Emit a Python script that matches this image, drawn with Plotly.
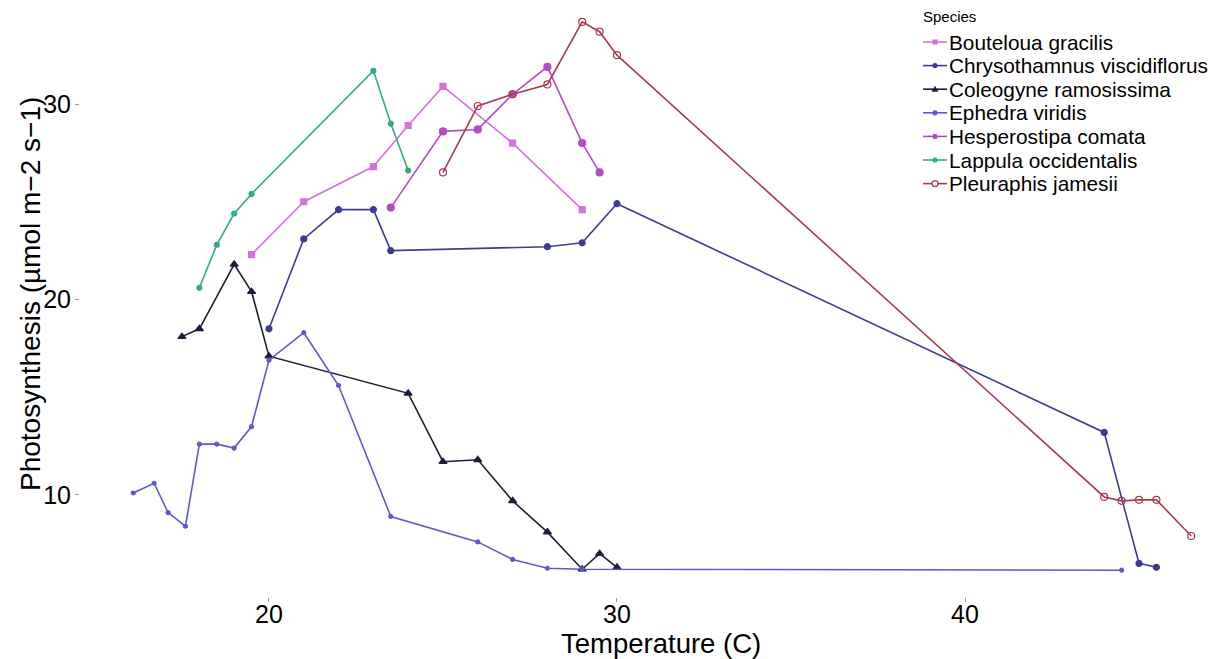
import plotly.graph_objects as go

species = ["Bouteloua gracilis", "Chrysothamnus viscidiflorus", "Coleogyne ramosissima",
           "Ephedra viridis", "Hesperostipa comata", "Lappula occidentalis", "Pleuraphis jamesii"]

bg_x = [19.5, 21, 23, 24, 25, 27, 29]
bg_y = [22.3, 25.0, 26.8, 28.9, 30.9, 28.0, 24.6]

cv_x = [20, 21, 22, 23, 23.5, 28, 29, 30, 44, 45, 45.5]
cv_y = [18.5, 23.1, 24.6, 24.6, 22.5, 22.7, 22.9, 24.9, 13.2, 6.5, 6.3]

cr_x = [17.5, 18, 19, 19.5, 20, 24, 25, 26, 27, 28, 29, 29.5, 30]
cr_y = [18.1, 18.5, 21.8, 20.4, 17.1, 15.2, 11.7, 11.8, 9.7, 8.1, 6.2, 7.0, 6.3]

ev_x = [16.1, 16.7, 17.1, 17.6, 18, 18.5, 19, 19.5, 20, 21, 22, 23.5, 26, 27, 28, 29, 44.5]
ev_y = [10.1, 10.6, 9.1, 8.4, 12.6, 12.6, 12.4, 13.5, 16.9, 18.3, 15.6, 8.9, 7.6, 6.7, 6.25, 6.2, 6.15]

hc_x = [23.5, 25, 26, 27, 28, 29, 29.5]
hc_y = [24.7, 28.6, 28.7, 30.5, 31.9, 28.0, 26.5]

lo_x = [18, 18.5, 19, 19.5, 23, 23.5, 24]
lo_y = [20.6, 22.8, 24.4, 25.4, 31.7, 29.0, 26.6]

pj_x = [25, 26, 27, 28, 29, 29.5, 30, 44, 44.5, 45, 45.5, 46.5]
pj_y = [26.5, 29.9, 30.5, 31.0, 34.2, 33.7, 32.5, 9.9, 9.7, 9.75, 9.75, 7.9]

x_ticks = [20, 30, 40]
y_ticks = [10, 20, 30]

xs = [bg_x, cv_x, cr_x, ev_x, hc_x, lo_x, pj_x]
ys = [bg_y, cv_y, cr_y, ev_y, hc_y, lo_y, pj_y]

colors = ["#D472DC", "#3D3D8E", "#1E1E3A", "#5C58D0", "#B44CC4", "#2EAF7D", "#A93A50"]
symbols = ["square", "circle", "triangle-up", "circle", "circle", "circle", "circle-open"]
sizes = [6, 6, 7, 4, 7, 5, 7]

W, H = 1216, 659
OFF = 8  # page body margin offset
# plot area in screen pixels
SL, SR, ST, SB = 80, 1210, 10, 597
L, T = SL - OFF, ST - OFF
R = W - (SR - OFF)
B = H - (SB - OFF)
PW, PH = W - L - R, H - T - B


def px(x):
    return (x - OFF - L) / PW


def py(y):
    return (H - B - (y - OFF)) / PH


fig = go.Figure()
for name, x, y, c, s, sz in zip(species, xs, ys, colors, symbols, sizes):
    fig.add_trace(go.Scatter(
        x=x, y=y, name=name, mode="lines+markers", showlegend=False,
        line=dict(color=c, width=1.6),
        marker=dict(color=c, symbol=s, size=sz, line=dict(color=c, width=1.2)),
    ))

annotations = [
    dict(text="Temperature (C)", xref="paper", yref="paper", x=px(661), y=py(643),
         xanchor="center", yanchor="middle", showarrow=False, font=dict(size=27.5)),
    dict(text="Photosynthesis (µmol m−2 s−1)", xref="paper", yref="paper", x=px(30), y=py(294),
         xanchor="center", yanchor="middle", showarrow=False, textangle=-90, font=dict(size=28)),
    dict(text="Species", xref="paper", yref="paper", x=px(921), y=py(16),
         xanchor="left", yanchor="middle", showarrow=False, font=dict(size=15)),
]
shapes = []
row0, dy = 42.0, 23.6
for i, (name, c, s) in enumerate(zip(species, colors, symbols)):
    yc = row0 + i * dy
    annotations.append(dict(text=name, xref="paper", yref="paper", x=px(947), y=py(yc),
                            xanchor="left", yanchor="middle", showarrow=False, font=dict(size=20.8)))
    shapes.append(dict(type="line", xref="paper", yref="paper", x0=px(923), x1=px(947),
                       y0=py(yc), y1=py(yc), line=dict(color=c, width=1.6)))
    r = 2.6
    if s == "square":
        shapes.append(dict(type="rect", xref="paper", yref="paper", x0=px(935 - r), x1=px(935 + r),
                           y0=py(yc - r), y1=py(yc + r), fillcolor=c, line=dict(width=0)))
    elif s == "triangle-up":
        path = "M {} {} L {} {} L {} {} Z".format(px(935), py(yc - 3.5), px(931.5), py(yc + 2.5),
                                                  px(938.5), py(yc + 2.5))
        shapes.append(dict(type="path", xref="paper", yref="paper", path=path,
                           fillcolor=c, line=dict(width=0)))
    elif s == "circle-open":
        shapes.append(dict(type="circle", xref="paper", yref="paper", x0=px(935 - 3), x1=px(935 + 3),
                           y0=py(yc - 3), y1=py(yc + 3), fillcolor="white", line=dict(color=c, width=1.2)))
    else:
        shapes.append(dict(type="circle", xref="paper", yref="paper", x0=px(935 - r), x1=px(935 + r),
                           y0=py(yc - r), y1=py(yc + r), fillcolor=c, line=dict(width=0)))

fig.update_layout(
    width=W, height=H,
    margin=dict(l=L, r=R, t=T, b=B, autoexpand=False),
    paper_bgcolor="white", plot_bgcolor="white",
    font=dict(family="Liberation Sans, Arial, sans-serif", color="black"),
    xaxis=dict(
        range=[14.57, 47.04], tickvals=x_ticks, showgrid=False, zeroline=False,
        ticks="outside", ticklen=4, tickcolor="#999999", showline=False, automargin=False,
        tickfont=dict(size=25, color="black"), ticklabelstandoff=-9,
    ),
    yaxis=dict(
        range=[4.78, 34.81], tickvals=y_ticks, showgrid=False, zeroline=False,
        ticks="outside", ticklen=4, tickcolor="#999999", showline=False, automargin=False,
        tickfont=dict(size=25, color="black"), ticklabelstandoff=-1,
    ),
    annotations=annotations,
    shapes=shapes,
    showlegend=False,
)

fig.write_html("out.html")
